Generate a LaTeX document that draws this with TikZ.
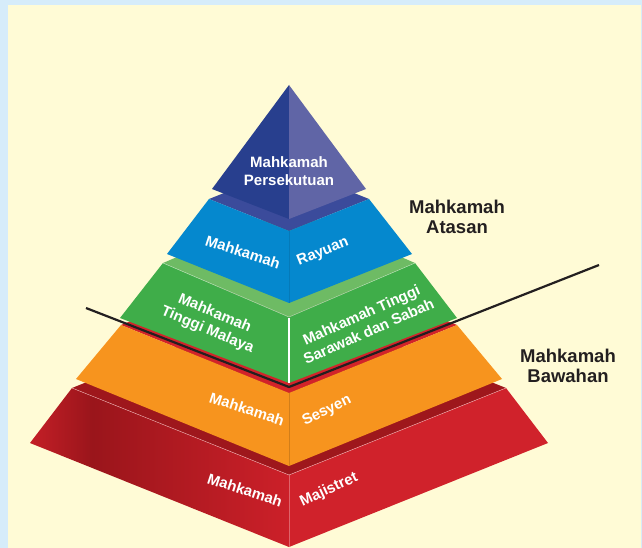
\documentclass[tikz,border=0pt]{standalone}
\usepackage{fontspec}
\setmainfont{Liberation Sans}
\usepackage{xcolor}
\usepackage{tikz}
\usetikzlibrary{positioning}

\definecolor{framebg}{HTML}{D6ECFA}
\definecolor{paper}{HTML}{FFFBD6}
\definecolor{navyL}{HTML}{283F8E}
\definecolor{navyR}{HTML}{6065A6}
\definecolor{navyTop}{HTML}{3B4B9B}
\definecolor{cyanFace}{HTML}{0588CE}
\definecolor{greenTop}{HTML}{6EBB64}
\definecolor{greenFace}{HTML}{3FAD49}
\definecolor{orangeTop}{HTML}{D2232A}
\definecolor{orangeFace}{HTML}{F7941E}
\definecolor{redTop}{HTML}{9E171C}
\definecolor{redFace}{HTML}{D0222B}
\definecolor{redEdge}{HTML}{C41F27}
\definecolor{redDark}{HTML}{9A151B}
\definecolor{redMid}{HTML}{CC2029}
\definecolor{ink}{HTML}{231F20}

\pgfdeclarehorizontalshading{majistretshade}{100bp}{color(0bp)=(redEdge); color(25bp)=(redEdge); color(37bp)=(redDark); color(75bp)=(redMid); color(100bp)=(redMid)}

\begin{document}
\begin{tikzpicture}[
				x=1pt, y=-1pt,
				courtlabel/.style={text=white, font=\bfseries\fontsize{15}{18}\selectfont, align=center, inner sep=0pt},
				grouplabel/.style={text=ink, font=\bfseries\fontsize{18.5}{19.5}\selectfont, align=center, inner sep=0pt},
				divider/.style={draw=ink, line width=2.2pt},
				]
				\useasboundingbox (0,0) rectangle (642,548);
				\fill[framebg] (0,0) rectangle (642,548);
				\fill[paper] (8,5) rectangle (641,548);
				
				%Majistret tier
				\fill[redTop] (72,388) -- (289,475) -- (506,388) -- (289,301) -- cycle;
				\shade[shading=majistretshade] (72,388) -- (289,475) -- (289,547) -- (30,443) -- cycle;
				\fill[redFace] (289,475) -- (506,388) -- (548,443) -- (289,547) -- cycle;
				\draw[white!65!redFace, line width=0.4pt] (72,388) -- (289,475) -- (506,388);
				\draw[white!50!redFace, line width=0.3pt, opacity=0.6] (289,475) -- (289,547);
				
				%Sesyen tier
				\fill[orangeTop] (121,325) -- (289,393) -- (457,325) -- (289,257) -- cycle;
				\fill[orangeFace] (121,325) -- (289,393) -- (457,325) -- (502,379) -- (289,466) -- (76,379) -- cycle;
				\draw[orangeFace!85!black, line width=0.3pt] (289,393) -- (289,466);
				
				%Tinggi tier
				\fill[greenTop] (163,263) -- (289,317) -- (415,263) -- (289,209) -- cycle;
				\fill[greenFace] (163,263) -- (289,317) -- (415,263) -- (457,318) -- (289,383) -- (120,318) -- cycle;
				\draw[white!60!greenTop, line width=0.4pt] (163,263) -- (289,317) -- (415,263);
				\draw[white, line width=1.5pt] (289,318) -- (289,383);
				
				%Rayuan tier
				\fill[navyTop] (209,199) -- (289,231) -- (369,199) -- (289,167) -- cycle;
				\fill[cyanFace] (209,199) -- (289,231) -- (369,199) -- (412,254) -- (289,303) -- (167,254) -- cycle;
				\draw[cyanFace!90!black, line width=0.3pt] (289,231) -- (289,303);
				
				%Persekutuan apex
				\fill[navyL] (289,85) -- (212,189) -- (289,219) -- cycle;
				\fill[navyR] (289,85) -- (289,219) -- (366,189) -- cycle;
				
				%Divider
				\coordinate (splitL) at (86,308);
				\coordinate (splitC) at (289,387);
				\coordinate (splitR) at (599,265);
				\draw[divider] (splitL) -- (splitC) -- (splitR);
				
				%Nodes
				\node[courtlabel] (persekutuan) at (289,171) {Mahkamah\\Persekutuan};
				\node[courtlabel, rotate=-18] (rayuanL) at (243,252) {Mahkamah};
				\node[courtlabel, rotate=22] (rayuanR) at (323,252) {Rayuan};
				\node[courtlabel, rotate=-23] (malaya) at (211,322) {Mahkamah\\Tinggi Malaya};
				\node[courtlabel, rotate=24] (sabah) at (365,323) {Mahkamah Tinggi\\Sarawak dan Sabah};
				\node[courtlabel, rotate=-18] (sesyenL) at (247,409) {Mahkamah};
				\node[courtlabel, rotate=26] (sesyenR) at (327,411) {Sesyen};
				\node[courtlabel, rotate=-18] (majistretL) at (245,490) {Mahkamah};
				\node[courtlabel, rotate=25] (majistretR) at (329,490) {Majistret};
				\node[grouplabel] (atasan) at (457,217) {Mahkamah\\Atasan};
				\node[grouplabel] (bawahan) at (568,366) {Mahkamah\\Bawahan};
				
			\end{tikzpicture}
\end{document}
